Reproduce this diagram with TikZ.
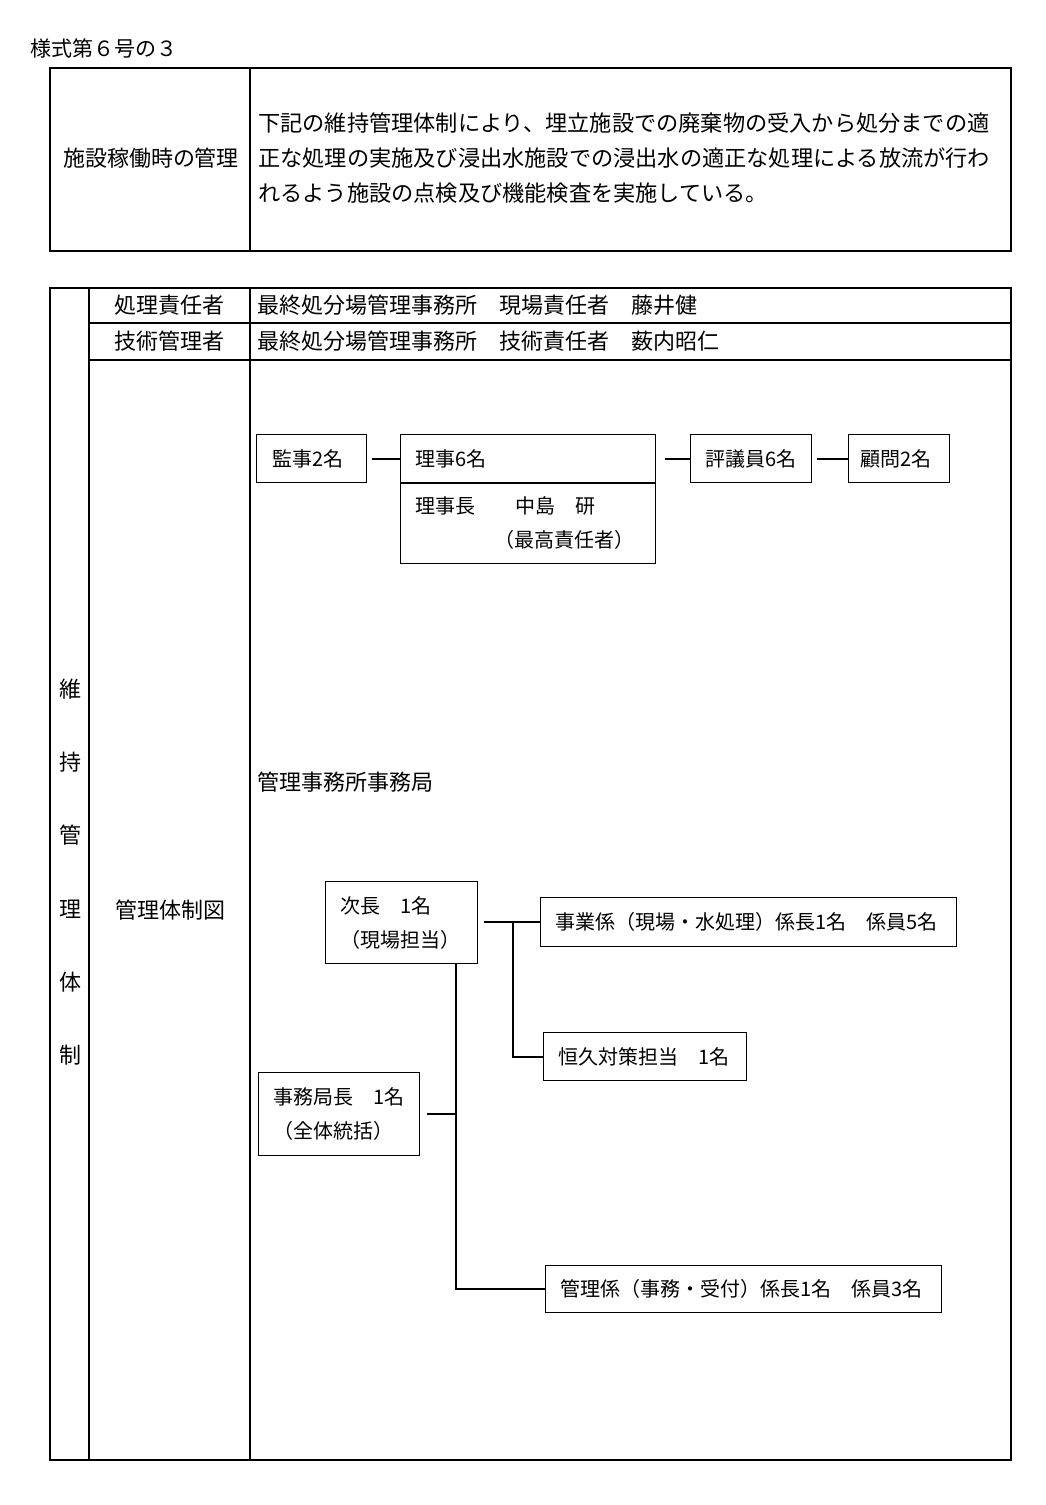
\documentclass[tikz,border=0pt]{standalone}
\usepackage{fontspec}
\setmainfont{Noto Sans CJK JP}
\newcommand{\tabfont}{\fontsize{22}{35}\selectfont}
\newcommand{\parfont}{\fontsize{22.2}{35}\selectfont}
\newcommand{\hdrfont}{\fontsize{21}{24}\selectfont}
\newcommand{\chartfont}{\fontsize{20}{34}\selectfont}
\newcommand{\vertfont}{\fontsize{22}{73.3}\selectfont}
\begin{document}
\begin{tikzpicture}[x=1pt,y=-1pt,
  tline/.style={line width=2.2pt},
  conn/.style={line width=2pt},
  txt/.style={inner sep=0pt, font=\tabfont},
  box/.style={draw, line width=1.2pt, anchor=north west, inner ysep=0pt, align=left, font=\chartfont},
]
\useasboundingbox (0,0) rectangle (1045,1505);

% header
\node[txt, anchor=west, font=\hdrfont] (hdr) at (30,48) {様式第６号の３};

% top table
\draw[tline] (50,68) rectangle (1011,251);
\draw[tline] (250,68) -- (250,251);
\node[txt] (lbl) at (151,158) {施設稼働時の管理};
\node[txt, anchor=west, align=left, font=\parfont] (para) at (258,158)
  {下記の維持管理体制により、埋立施設での廃棄物の受入から処分までの適\\
   正な処理の実施及び浸出水施設での浸出水の適正な処理による放流が行わ\\
   れるよう施設の点検及び機能検査を実施している。};

% second table
\draw[tline] (50,288) rectangle (1011,1460);
\draw[tline] (89,288) -- (89,1460);
\draw[tline] (250,288) -- (250,1460);
\draw[tline] (89,323) -- (1011,323);
\draw[tline] (89,360) -- (1011,360);

\node[txt] (r1l) at (169,305.5) {処理責任者};
\node[txt, anchor=west] (r1r) at (257,305.5) {最終処分場管理事務所　現場責任者　藤井健};
\node[txt] (r2l) at (169,341.5) {技術管理者};
\node[txt, anchor=west] (r2r) at (257,341.5) {最終処分場管理事務所　技術責任者　薮内昭仁};
\node[txt, align=center, font=\vertfont] (vert) at (70,872) {維\\持\\管\\理\\体\\制};
\node[txt] (r3l) at (170,910) {管理体制図};
\node[txt, anchor=west] (office) at (257,782) {管理事務所事務局};

% org chart upper
\node[box, inner xsep=16pt, text width=78pt, minimum height=48pt] (kanji) at (256,434) {監事2名};
\node[box, inner xsep=15pt, text width=225pt, minimum height=48pt] (rijitop) at (400,434) {理事6名};
\node[box, inner xsep=15pt, text width=225pt, minimum height=81pt] (rijibot) at (400,482)
  {理事長　　中島　研\\\hspace*{79pt}（最高責任者）};
\draw[line width=2pt] (rijitop.south west) -- (rijitop.south east);
\node[box, inner xsep=15pt, text width=91pt, minimum height=48pt] (hyogi) at (690,434) {評議員6名};
\node[box, inner xsep=12pt, text width=77pt, minimum height=48pt] (komon) at (848,434) {顧問2名};

\draw[conn] ([xshift=5pt]kanji.east) -- (rijitop.west);
\draw[conn] ([xshift=9pt]rijitop.east) -- (hyogi.west);
\draw[conn] ([xshift=5pt]hyogi.east) -- (komon.west);

% org chart lower
\node[box, inner xsep=15pt, text width=122pt, minimum height=82pt] (jicho) at (325,881)
  {次長　1名\\（現場担当）};
\node[box, inner xsep=15pt, text width=386pt, minimum height=49pt] (jigyo) at (540,897)
  {事業係（現場・水処理）係長1名　係員5名};
\node[box, inner xsep=15pt, text width=173pt, minimum height=48pt] (koukyu) at (543,1032)
  {恒久対策担当　1名};
\node[box, inner xsep=15pt, text width=131pt, minimum height=83pt] (jimu) at (258,1072)
  {事務局長　1名\\（全体統括）};
\node[box, inner xsep=15pt, text width=366pt, minimum height=47pt] (kanri) at (545,1265)
  {管理係（事務・受付）係長1名　係員3名};

\coordinate (br1) at (513,921.5);
\coordinate (trunk) at (456,963);
\draw[conn] ([xshift=6pt]jicho.east |- jigyo.west) -- (jigyo.west);
\draw[conn] (br1) |- (koukyu.west);
\draw[conn] (trunk) |- (kanri.west);
\draw[conn] ([xshift=7pt]jimu.east) -- (jimu.east -| trunk);
\end{tikzpicture}
\end{document}
